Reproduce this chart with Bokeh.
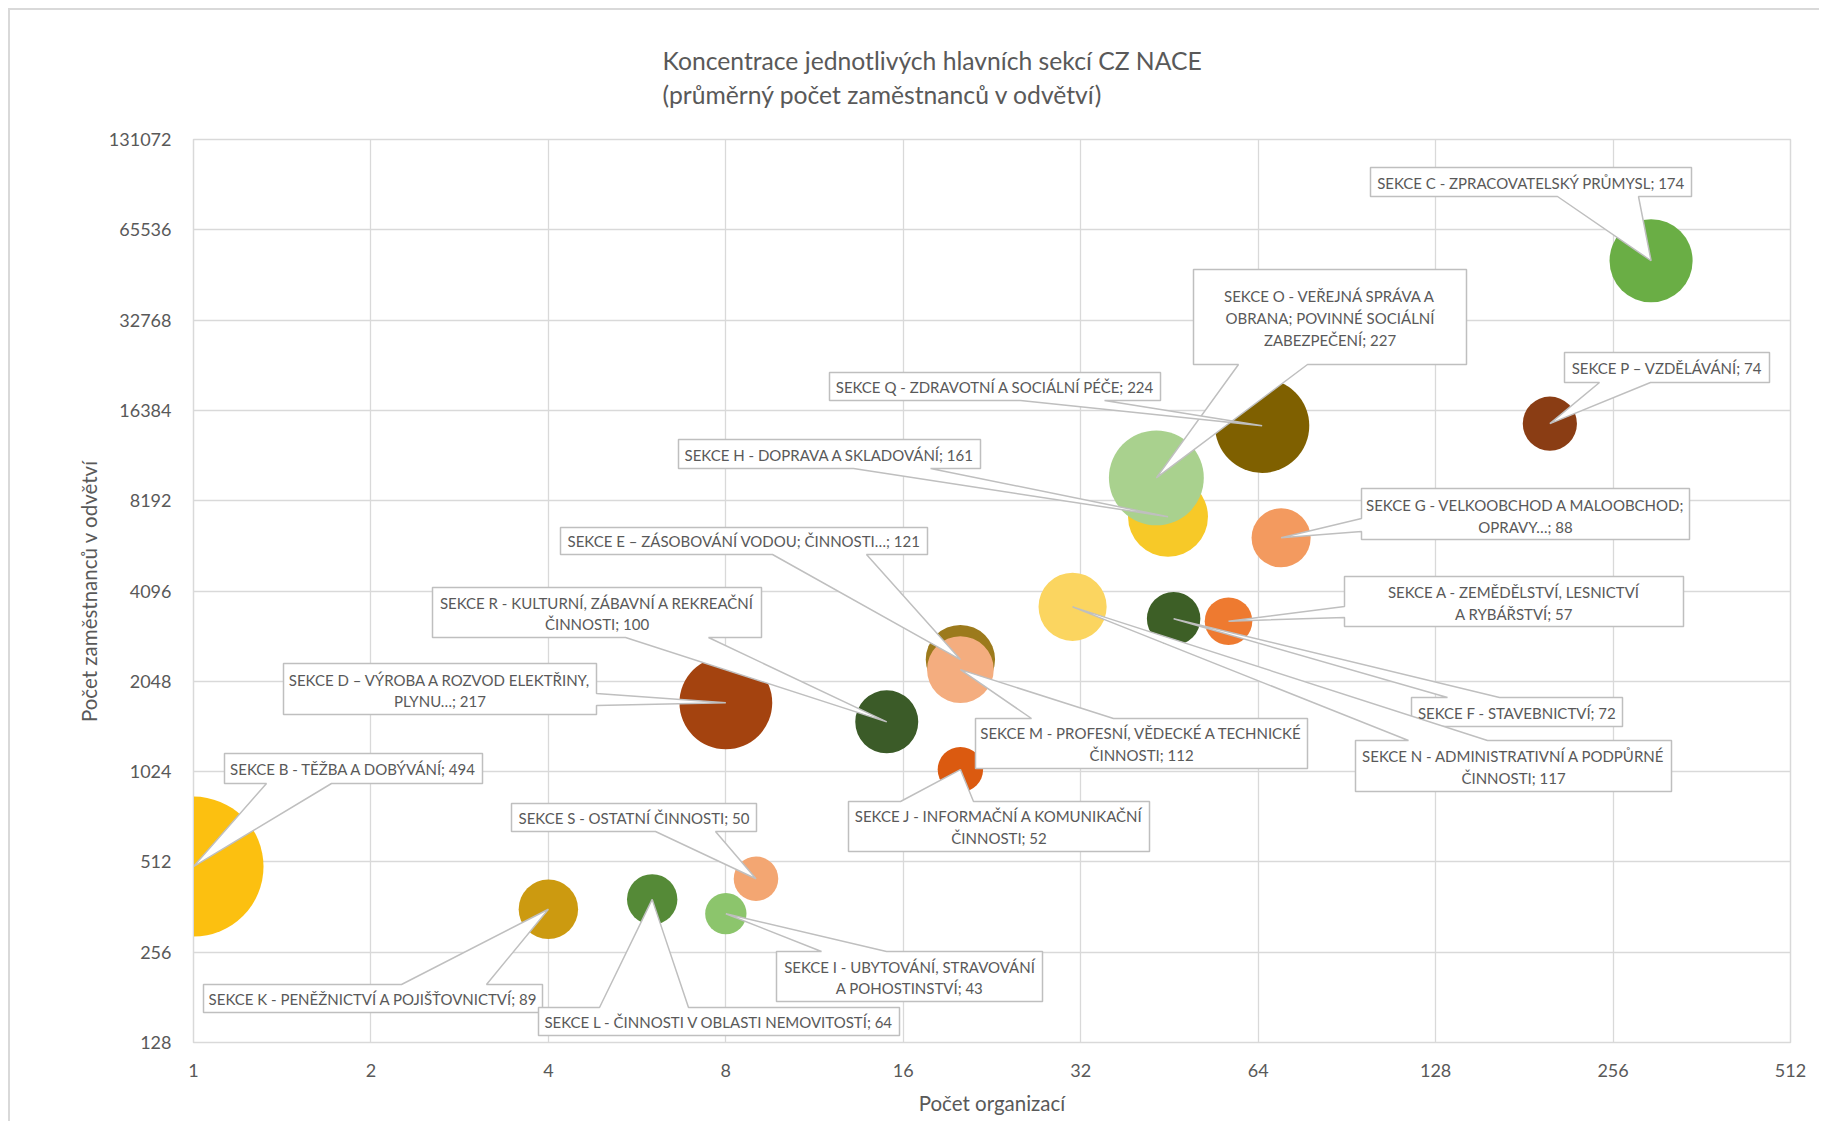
import math
from bokeh.plotting import figure
from bokeh.models import Range1d, FixedTicker, NumeralTickFormatter, Title, ColumnDataSource
from bokeh.core.properties import value
from bokeh.embed import file_html
from bokeh.resources import INLINE

# ---------------- data ----------------
codes = ["A", "B", "C", "D", "E", "F", "G", "H", "I", "J",
         "K", "L", "M", "N", "O", "P", "Q", "R", "S"]
names = [
    "SEKCE A - ZEMĚDĚLSTVÍ, LESNICTVÍ\nA RYBÁŘSTVÍ",
    "SEKCE B - TĚŽBA A DOBÝVÁNÍ",
    "SEKCE C - ZPRACOVATELSKÝ PRŮMYSL",
    "SEKCE D – VÝROBA A ROZVOD ELEKTŘINY,\nPLYNU…",
    "SEKCE E – ZÁSOBOVÁNÍ VODOU; ČINNOSTI…",
    "SEKCE F - STAVEBNICTVÍ",
    "SEKCE G - VELKOOBCHOD A MALOOBCHOD;\nOPRAVY…",
    "SEKCE H - DOPRAVA A SKLADOVÁNÍ",
    "SEKCE I - UBYTOVÁNÍ, STRAVOVÁNÍ\nA POHOSTINSTVÍ",
    "SEKCE J - INFORMAČNÍ A KOMUNIKAČNÍ\nČINNOSTI",
    "SEKCE K - PENĚŽNICTVÍ A POJIŠŤOVNICTVÍ",
    "SEKCE L - ČINNOSTI V OBLASTI NEMOVITOSTÍ",
    "SEKCE M - PROFESNÍ, VĚDECKÉ A TECHNICKÉ\nČINNOSTI",
    "SEKCE N - ADMINISTRATIVNÍ A PODPŮRNÉ\nČINNOSTI",
    "SEKCE O - VEŘEJNÁ SPRÁVA A\nOBRANA; POVINNÉ SOCIÁLNÍ\nZABEZPEČENÍ",
    "SEKCE P – VZDĚLÁVÁNÍ",
    "SEKCE Q - ZDRAVOTNÍ A SOCIÁLNÍ PÉČE",
    "SEKCE R - KULTURNÍ, ZÁBAVNÍ A REKREAČNÍ\nČINNOSTI",
    "SEKCE S - OSTATNÍ ČINNOSTI",
]
organizations = [57, 1, 297, 8, 20, 46, 70, 45, 8, 20, 4, 6, 20, 31, 43, 200, 65, 15, 9]
employees = [3249, 494, 51678, 1736, 2420, 3312, 6160, 7245, 344, 1040,
             356, 384, 2240, 3627, 9761, 14800, 14560, 1500, 450]
avg_employees = [57, 494, 174, 217, 121, 72, 88, 161, 43, 52,
                 89, 64, 112, 117, 227, 74, 224, 100, 50]
colors = ["#ee7a30", "#fcc010", "#6aae45", "#a4430f", "#9c7a1c", "#3d5f26", "#f39a5f",
          "#f7c928", "#8cc56c", "#db5a10", "#cc9a10", "#558a37", "#f4ad7f", "#fbd560",
          "#a9d18e", "#8a3d14", "#7f6000", "#3b5b28", "#f3a672"]
x_ticks = [1, 2, 4, 8, 16, 32, 64, 128, 256, 512]
y_ticks = [128, 256, 512, 1024, 2048, 4096, 8192, 16384, 32768, 65536, 131072]

title_1 = "Koncentrace jednotlivých hlavních sekcí CZ NACE"
title_2 = "(průměrný počet zaměstnanců v odvětví)"
x_title = "Počet organizací"
y_title = "Počet zaměstnanců v odvětví"

# ---------------- layout (page pixels) ----------------
ORIGIN = 10                      # canvas origin on the page (margin 8 + border 2)
FL, FR, FT, FB = 193, 1790, 139, 1042
W, H = 1811, 1113
BUBBLE_K = 3.15
GRAY = "#595959"
FONT = "Lato"
TITLE_SIZE = "24.7px"


def dx(px):
    return 2 ** ((px - FL) / (FR - FL) * 9)


def dy(py):
    return 2 ** (7 + (FB - py) / (FB - FT) * 10)


# callout boxes: (x0, y0, x1, y1), side of the pointer, base positions along side, text line centres
callouts = {
    "A": ((1344, 576, 1683, 626), "left", (606, 617), [591, 613]),
    "B": ((224, 753, 482, 783), "bottom", (266, 331), [768]),
    "C": ((1370, 167, 1691, 196), "bottom", (1557, 1638), [182]),
    "D": ((283, 663, 596, 714), "right", (693, 705), [679, 700]),
    "E": ((560, 527, 927, 554), "bottom", (772, 866), [540]),
    "F": ((1411, 697, 1622, 726), "top", (1447, 1499), [712]),
    "G": ((1361, 488, 1689, 539), "left", (518, 531), [504, 526]),
    "H": ((678, 439, 980, 468), "bottom", (853, 930), [454]),
    "I": ((776, 951, 1042, 1001), "top", (821, 886), [966, 987]),
    "J": ((848, 801, 1149, 851), "top", (900, 973), [815, 837]),
    "K": ((203, 984, 542, 1012), "top", (401, 486), [998]),
    "L": ((538, 1007, 899, 1035), "top", (599, 688), [1021]),
    "M": ((975, 718, 1307, 768), "top", (1031, 1113), [732, 754]),
    "N": ((1355, 740, 1671, 791), "top", (1408, 1487), [755, 777]),
    "O": ((1193, 269, 1466, 364), "bottom", (1238, 1307), [295, 317, 339]),
    "P": ((1564, 352, 1769, 382), "bottom", (1599, 1650), [367]),
    "Q": ((829, 372, 1160, 400), "bottom", (1020, 1104), [386]),
    "R": ((432, 587, 761, 637), "bottom", (625, 708), [602, 623]),
    "S": ((511, 803, 756, 831), "bottom", (655, 715), [817]),
}

p = figure(width=W, height=H, x_axis_type="log", y_axis_type="log",
           x_range=Range1d(1, 512), y_range=Range1d(128, 131072),
           output_backend="svg", toolbar_location=None,
           min_border_left=FL - ORIGIN, min_border_right=W - (FR - ORIGIN),
           min_border_top=FT - ORIGIN, min_border_bottom=H - (FB - ORIGIN))
p.styles = {"margin-left": "8px", "margin-top": "8px",
            "border-left": "2px solid #d9d9d9", "border-top": "2px solid #d9d9d9"}
p.background_fill_color = "white"
p.border_fill_color = "white"
p.outline_line_color = "#d9d9d9"
p.outline_line_width = 1.5

for ax, ticks in ((p.xaxis, x_ticks), (p.yaxis, y_ticks)):
    ax.ticker = FixedTicker(ticks=ticks)
    ax.formatter = NumeralTickFormatter(format="0")
    ax.major_tick_line_color = None
    ax.minor_tick_line_color = None
    ax.axis_line_color = "#d9d9d9"
    ax.major_label_text_font = FONT
    ax.major_label_text_font_size = "18px"
    ax.major_label_text_color = GRAY
    ax.axis_label_text_font = FONT
    ax.axis_label_text_font_size = "20.5px"
    ax.axis_label_text_font_style = "normal"
    ax.axis_label_text_color = GRAY
p.xaxis.major_label_standoff = 15
p.yaxis.major_label_standoff = 16
p.xaxis.axis_label_standoff = 11
p.yaxis.axis_label_standoff = 5
p.xaxis.axis_label = x_title
p.yaxis.axis_label = y_title
p.xgrid.ticker = FixedTicker(ticks=x_ticks)
p.ygrid.ticker = FixedTicker(ticks=y_ticks)
for g in (p.xgrid, p.ygrid):
    g.grid_line_color = "#d9d9d9"
    g.grid_line_width = 1.3

# title (two lines, left aligned, above the plot area)
# p.title is outermost; titles added to "above" stack outward from the frame in order
t = p.title
t.text = title_1
t.align = "left"
t.offset = 662 - FL
t.text_font = FONT
t.text_font_size = TITLE_SIZE
t.text_font_style = "normal"
t.text_color = GRAY
t.standoff = 3
p.add_layout(Title(text="\u00a0", align="left", offset=0, text_font=FONT,
                   text_font_size=TITLE_SIZE, text_color=GRAY, standoff=-1), "above")
p.add_layout(Title(text=title_2, align="left", offset=662 - FL, text_font=FONT,
                   text_font_size=TITLE_SIZE, text_font_style="normal",
                   text_color=GRAY, standoff=2), "above")

# bubbles
src = ColumnDataSource(dict(
    x=organizations, y=employees, avg=avg_employees, color=colors,
    size=[2 * BUBBLE_K * math.sqrt(v) for v in avg_employees]))
p.scatter("x", "y", size="size", marker="circle", fill_color="color",
          line_color=None, source=src)

# callouts
poly_xs, poly_ys = [], []
tx, ty, tt = [], [], []
for code, name, xo, ye, avg in zip(codes, names, organizations, employees, avg_employees):
    (x0, y0, x1, y1), side, (b1, b2), line_ys = callouts[code]
    tip = None
    if side == "bottom":
        pts = [(x0, y0), (x1, y0), (x1, y1), (b2, y1), tip, (b1, y1), (x0, y1)]
    elif side == "top":
        pts = [(x0, y0), (b1, y0), tip, (b2, y0), (x1, y0), (x1, y1), (x0, y1)]
    elif side == "left":
        pts = [(x0, y0), (x1, y0), (x1, y1), (x0, y1), (x0, b2), tip, (x0, b1)]
    else:
        pts = [(x0, y0), (x1, y0), (x1, b1), tip, (x1, b2), (x1, y1), (x0, y1)]
    xs, ys = [], []
    for pt in pts:
        if pt is None:
            xs.append(xo)
            ys.append(ye)
        else:
            xs.append(dx(pt[0]))
            ys.append(dy(pt[1]))
    poly_xs.append(xs)
    poly_ys.append(ys)
    lines = (name + "; " + str(avg)).split("\n")
    cx = (x0 + x1) / 2
    for ln, ly in zip(lines, line_ys):
        tx.append(dx(cx))
        ty.append(dy(ly))
        tt.append(ln)

p.patches(poly_xs, poly_ys, fill_color="white", line_color="#bfbfbf", line_width=1.5)
p.text(tx, ty, text=tt, text_font=value(FONT), text_font_size="15px",
       text_color=GRAY, text_align="center", text_baseline="middle")

open("out.html", "w").write(file_html(p, INLINE))
